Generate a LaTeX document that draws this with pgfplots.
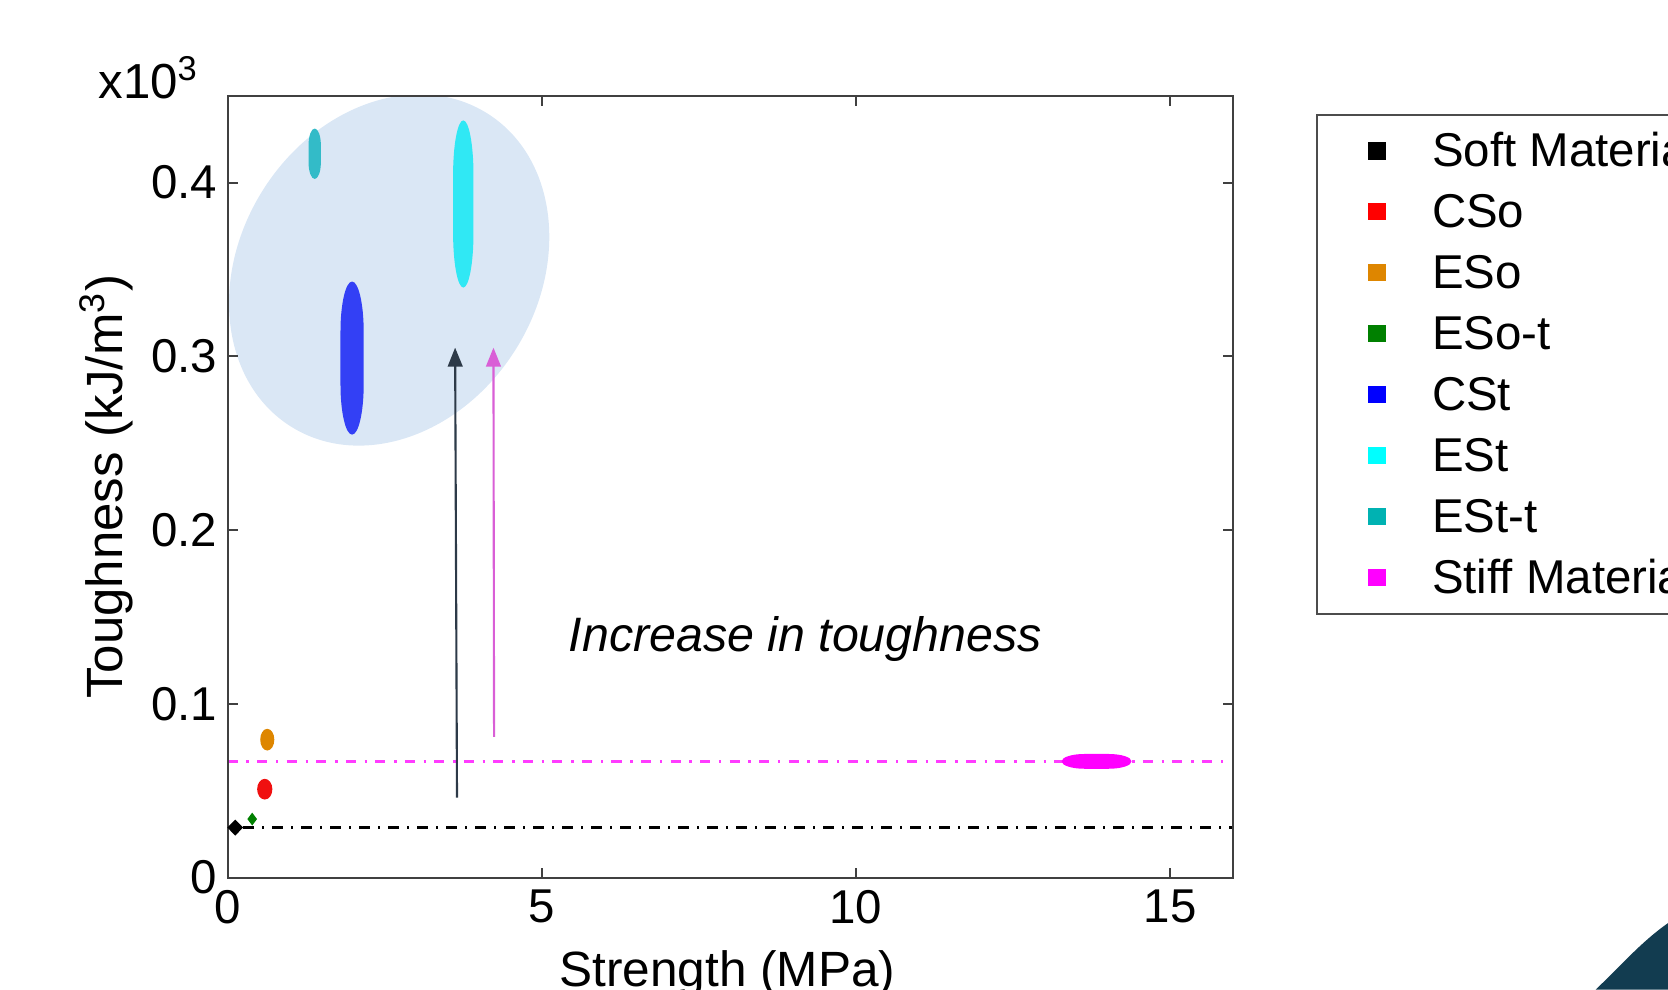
\documentclass[border=0pt]{standalone}
\usepackage{fontspec}
\setmainfont{Liberation Sans}
\usepackage{pgfplots}
\pgfplotsset{compat=1.18}
\usetikzlibrary{arrows.meta}

\definecolor{csoC}{RGB}{240,16,16}
\definecolor{esoC}{RGB}{222,134,0}
\definecolor{esotC}{RGB}{0,128,0}
\definecolor{cstC}{RGB}{51,64,245}
\definecolor{estC}{RGB}{48,232,244}
\definecolor{esttC}{RGB}{51,187,200}
\definecolor{stiffC}{RGB}{255,0,255}
\definecolor{legBlack}{RGB}{0,0,0}
\definecolor{legRed}{RGB}{255,0,0}
\definecolor{legBlue}{RGB}{0,0,255}
\definecolor{legCyan}{RGB}{0,255,255}
\definecolor{legEstt}{RGB}{0,178,178}
\definecolor{legMag}{RGB}{255,0,255}
\definecolor{hiC}{RGB}{218,231,245}
\definecolor{magLine}{RGB}{255,60,255}
\definecolor{arrDark}{RGB}{45,58,72}
\definecolor{arrMag}{RGB}{217,95,214}
\definecolor{navy}{RGB}{18,60,80}

% elongated blob: straight sides, rounded ends
\pgfdeclareplotmark{blob}{%
  \pgfpathmoveto{\pgfqpoint{-\pgfplotmarksize}{-0.35\pgfplotmarksize}}%
  \pgfpathlineto{\pgfqpoint{-\pgfplotmarksize}{0.35\pgfplotmarksize}}%
  \pgfpatharc{180}{0}{\pgfplotmarksize and 0.65\pgfplotmarksize}%
  \pgfpathlineto{\pgfqpoint{\pgfplotmarksize}{-0.35\pgfplotmarksize}}%
  \pgfpatharc{0}{-180}{\pgfplotmarksize and 0.65\pgfplotmarksize}%
  \pgfpathclose\pgfusepathqfill}

\newcommand\lbl{\fontsize{13.5}{16}\selectfont}

\begin{document}
\begin{tikzpicture}
\clip (-2.277,-1.114) rectangle (14.403,8.776);
\useasboundingbox (-2.277,-1.114) rectangle (14.403,8.776);
\begin{axis}[
    scale only axis,
    width=10.052cm,
    height=7.819cm,
    xmin=0, xmax=16,
    ymin=0, ymax=450,
    xtick={0,5,10,15},
    ytick={0,100,200,300,400},
    yticklabels={0,0.1,0.2,0.3,0.4},
    /pgf/number format/assume math mode=true,
    tick label style={font=\lbl},
    yticklabel style={inner xsep=2.8pt},
    tick align=inside,
    major tick length=0.1cm,
    tick style={black!75, line width=0.6pt},
    axis line style={black!75, line width=0.6pt},
    axis on top,
    xlabel={Strength (MPa)},
    ylabel={Toughness (kJ/m\textsuperscript{3})},
    xlabel style={font=\fontsize{14.1}{16}\selectfont, at={(axis description cs:0.497,0)}, anchor=base, yshift=-1.09cm},
    ylabel style={font=\fontsize{14.5}{16}\selectfont, at={(axis description cs:-0.121,0.5)}, anchor=center},
    legend image code/.code={\path (0,0) (1.13cm,0);
        \fill[#1] (0.515cm,-0.075cm) rectangle (0.665cm,0.075cm);},
    legend cell align=left,
    legend style={at={(1.0826,0.977)}, anchor=north west, font=\lbl,
        draw=black!70, line width=0.6pt, inner xsep=0pt, inner ysep=3.8pt,
        row sep=4.35pt, column sep=0pt,
        nodes={inner xsep=0pt, inner ysep=0pt, text height=11pt, text depth=2pt}},
]
% highlighted region
\fill[hiC, rotate around={-32:(axis cs:2.57,349.7)}] (axis cs:2.57,349.7)
    ellipse [x radius=1.494cm, y radius=1.848cm];

% material groups
\addplot[only marks, mark=diamond*, color=black, mark size=2pt, mark options={xscale=1.3}, forget plot]
    coordinates {(0.12,28.8)};
\addplot[only marks, mark=*, color=csoC, mark size=1.96pt, mark options={yscale=1.4}, forget plot]
    coordinates {(0.59,50.9)};
\addplot[only marks, mark=*, color=esoC, mark size=1.8pt, mark options={yscale=1.6}, forget plot]
    coordinates {(0.63,79.4)};
\addplot[only marks, mark=diamond*, color=esotC, mark size=1.5pt, forget plot]
    coordinates {(0.39,33.7)};
\addplot[only marks, mark=blob, color=cstC, mark size=3.3pt, mark options={yscale=6.6}, forget plot]
    coordinates {(1.98,299)};
\addplot[only marks, mark=blob, color=estC, mark size=2.9pt, mark options={yscale=8.2}, forget plot]
    coordinates {(3.75,387.7)};
\addplot[only marks, mark=blob, color=esttC, mark size=1.75pt, mark options={yscale=4.1}, forget plot]
    coordinates {(1.385,416.6)};
\addplot[only marks, mark=blob, color=stiffC, mark size=2.1pt, mark options={xscale=4.74, rotate=90}, forget plot]
    coordinates {(13.83,66.9)};

% reference levels
\addplot[magLine, line width=0.85pt, dash pattern=on 2.85pt off 2.5pt on 0.7pt off 2.35pt, forget plot]
    coordinates {(0,66.9) (15.85,66.9)};
\addplot[black, line width=0.85pt, dash pattern=on 3pt off 2.4pt on 0.6pt off 2.25pt, forget plot]
    coordinates {(0.25,28.8) (16,28.8)};

% arrows
\draw[arrDark, line width=0.6pt, -{Triangle[width=4.2pt,length=5.4pt]}]
    (axis cs:3.65,46) -- (axis cs:3.62,305);
\draw[arrMag, line width=0.6pt, -{Triangle[width=4.2pt,length=5.4pt]}]
    (axis cs:4.24,81) -- (axis cs:4.23,305);
\node[anchor=base west, inner sep=0pt, font=\fontsize{13.75}{16}\selectfont\itshape] at (axis cs:5.42,130) {Increase in toughness};

\addlegendimage{legBlack}\addlegendentry{Soft Materials}
\addlegendimage{legRed}\addlegendentry{CSo}
\addlegendimage{esoC}\addlegendentry{ESo}
\addlegendimage{esotC}\addlegendentry{ESo-t}
\addlegendimage{legBlue}\addlegendentry{CSt}
\addlegendimage{legCyan}\addlegendentry{ESt}
\addlegendimage{legEstt}\addlegendentry{ESt-t}
\addlegendimage{legMag}\addlegendentry{Stiff Materials}
\end{axis}
\node[anchor=base west, inner sep=0pt, font=\fontsize{14}{16}\selectfont] at (-1.30,7.79) {x10\textsuperscript{3}};
\fill[navy] (13.68,-1.12) .. controls (13.95,-0.86) and (14.15,-0.63) .. (14.41,-0.45)
    -- (14.41,-1.12) -- cycle;
\end{tikzpicture}
\end{document}
